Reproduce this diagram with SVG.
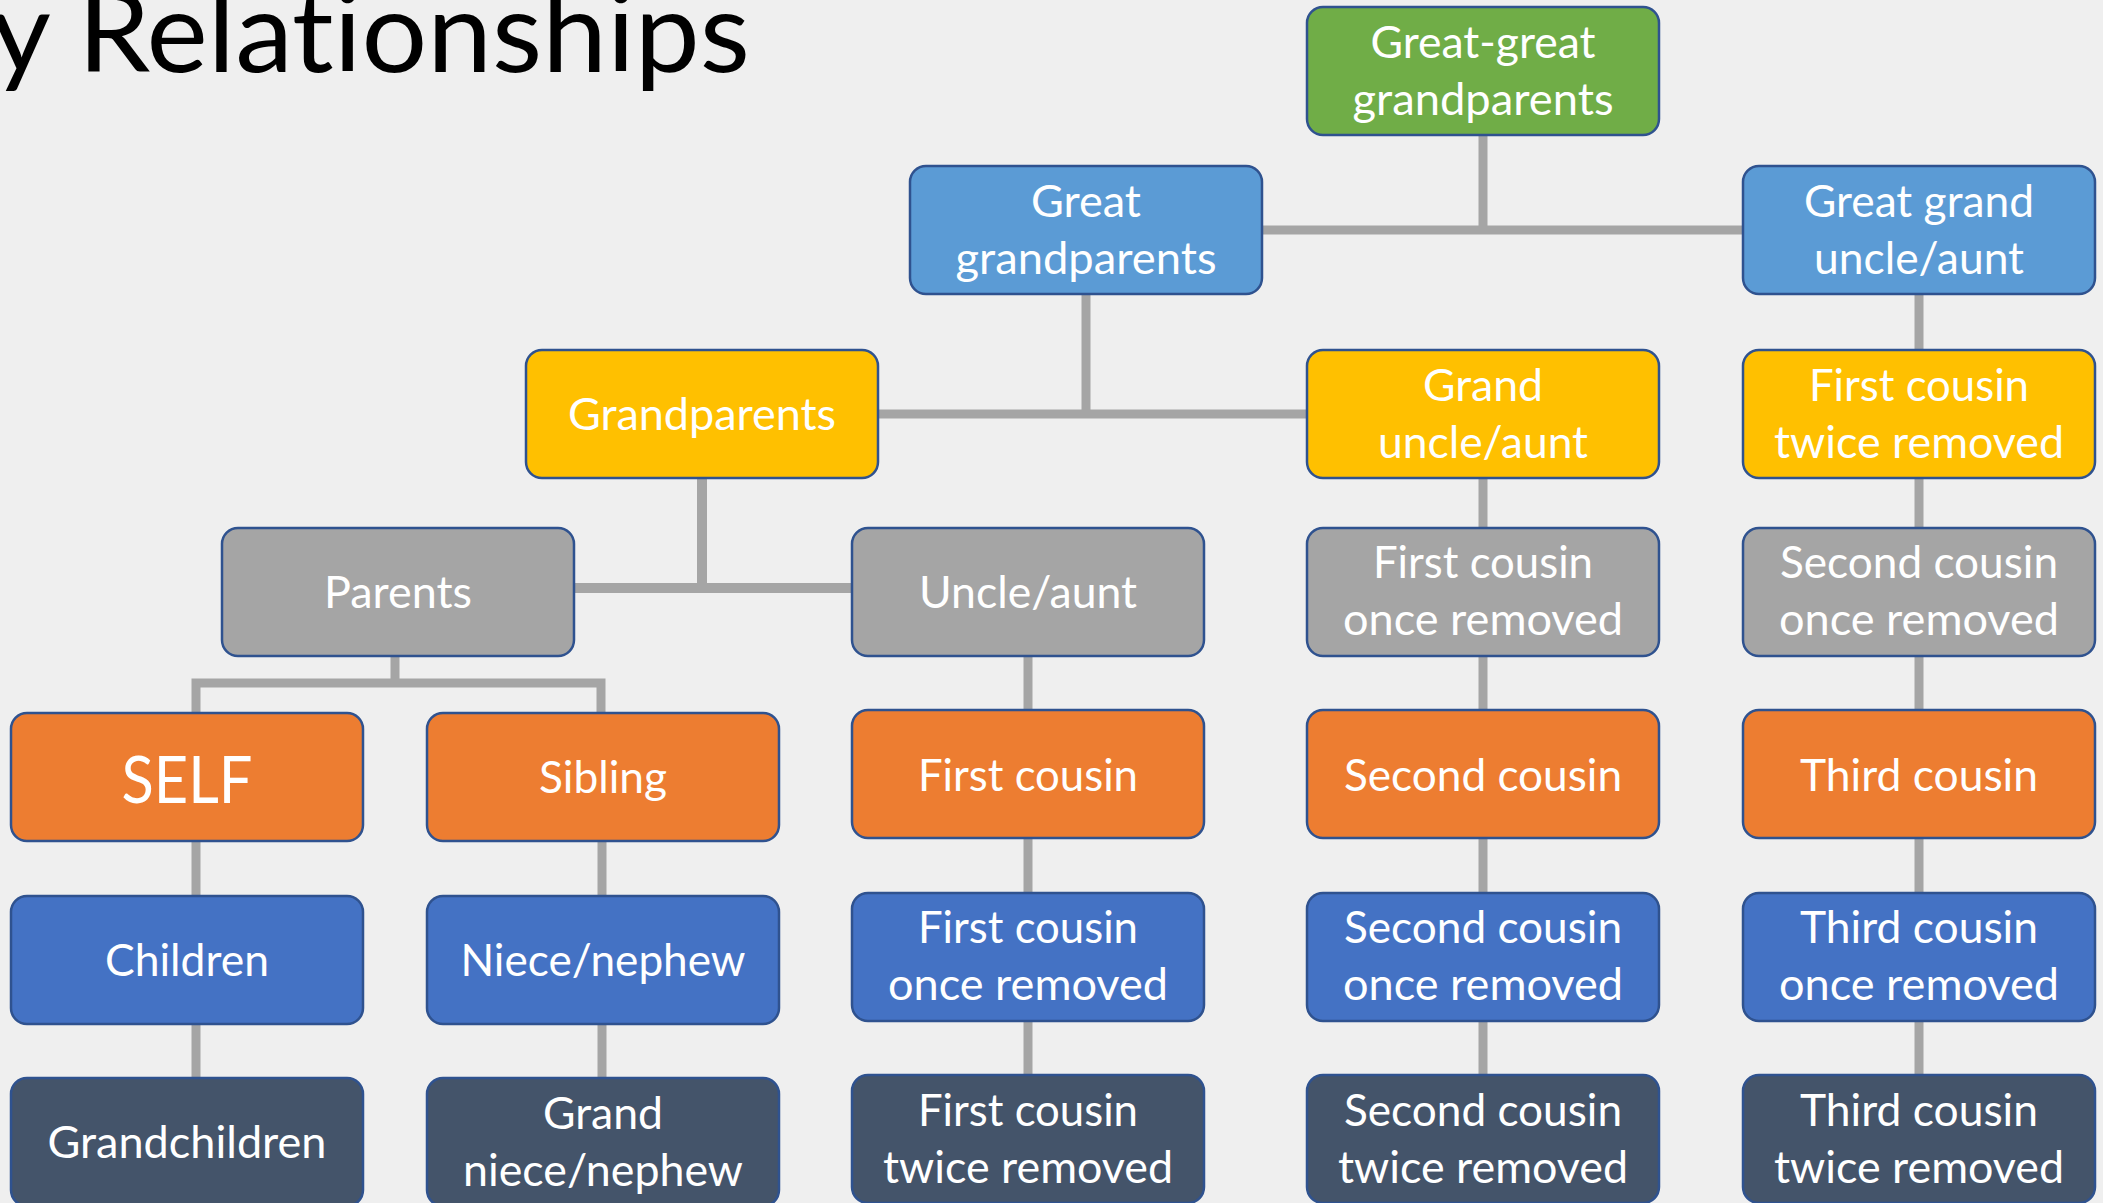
<svg xmlns="http://www.w3.org/2000/svg" width="2103" height="1203" viewBox="0 0 2103 1203">
<style>
.bg{fill:#EFEFEF}
.box{stroke:#2F528F;stroke-width:2.5}
.green{fill:#70AD47}.lblue{fill:#5B9BD5}.yellow{fill:#FFC000}.gray{fill:#A5A5A5}.orange{fill:#ED7D31}.blue{fill:#4472C4}.slate{fill:#44546A}
.t{fill:#FFFFFF;font-family:Lato,"Open Sans","Liberation Sans",sans-serif;font-size:44px;text-anchor:middle;font-variant-ligatures:none}
.big{font-size:66px}
.title{fill:#000000;font-family:Lato,"Open Sans","Liberation Sans",sans-serif;font-size:112px;font-variant-ligatures:none}
.c{fill:none;stroke:#A5A5A5;stroke-width:9}
</style>
<rect class="bg" x="0" y="0" width="2103" height="1203"/>
<text class="title" x="-9" y="72" textLength="759" lengthAdjust="spacingAndGlyphs">y Relationships</text>

<g id="connectors">
<path class="c" d="M1483,135 V230 M1262,230 H1743"/>
<path class="c" d="M1086,294 V414 M878,414 H1308"/>
<path class="c" d="M1919,294 V350"/>
<path class="c" d="M1483,477 V528 M1919,477 V528"/>
<path class="c" style="stroke-width:10" d="M702,477 V588 M574,588 H852"/>
<path class="c" d="M395,656 V683 M196,713 V683 H601 V713"/>
<path class="c" d="M196,841 V896 M196,1024 V1078"/>
<path class="c" d="M602,841 V896 M602,1024 V1078"/>
<path class="c" d="M1028,656 V710 M1028,838 V893 M1028,1021 V1075"/>
<path class="c" d="M1483,656 V710 M1483,838 V893 M1483,1021 V1075"/>
<path class="c" d="M1919,656 V710 M1919,838 V893 M1919,1021 V1075"/>
</g>

<g id="n-great-great-grandparents"><rect class="box green" x="1307" y="7" width="352" height="128" rx="16"/>
<text class="t" x="1483" y="58" textLength="225" lengthAdjust="spacingAndGlyphs">Great-great</text>
<text class="t" x="1483" y="115" textLength="261" lengthAdjust="spacingAndGlyphs">grandparents</text></g>

<g id="n-great-grandparents"><rect class="box lblue" x="910" y="166" width="352" height="128" rx="16"/>
<text class="t" x="1086" y="217" textLength="110" lengthAdjust="spacingAndGlyphs">Great</text>
<text class="t" x="1086" y="274" textLength="261" lengthAdjust="spacingAndGlyphs">grandparents</text></g>

<g id="n-great-grand-uncle-aunt"><rect class="box lblue" x="1743" y="166" width="352" height="128" rx="16"/>
<text class="t" x="1919" y="217" textLength="230" lengthAdjust="spacingAndGlyphs">Great grand</text>
<text class="t" x="1919" y="274" textLength="210" lengthAdjust="spacingAndGlyphs">uncle/aunt</text></g>

<g id="n-grandparents"><rect class="box yellow" x="526" y="350" width="352" height="128" rx="16"/>
<text class="t" x="702" y="430" textLength="268" lengthAdjust="spacingAndGlyphs">Grandparents</text></g>

<g id="n-grand-uncle-aunt"><rect class="box yellow" x="1307" y="350" width="352" height="128" rx="16"/>
<text class="t" x="1483" y="401" textLength="120" lengthAdjust="spacingAndGlyphs">Grand</text>
<text class="t" x="1483" y="458" textLength="210" lengthAdjust="spacingAndGlyphs">uncle/aunt</text></g>

<g id="n-first-cousin-twice-removed-top"><rect class="box yellow" x="1743" y="350" width="352" height="128" rx="16"/>
<text class="t" x="1919" y="401" textLength="220" lengthAdjust="spacingAndGlyphs">First cousin</text>
<text class="t" x="1919" y="458" textLength="290" lengthAdjust="spacingAndGlyphs">twice removed</text></g>

<g id="n-parents"><rect class="box gray" x="222" y="528" width="352" height="128" rx="16"/>
<text class="t" x="398" y="608" textLength="148" lengthAdjust="spacingAndGlyphs">Parents</text></g>

<g id="n-uncle-aunt"><rect class="box gray" x="852" y="528" width="352" height="128" rx="16"/>
<text class="t" x="1028" y="608" textLength="218" lengthAdjust="spacingAndGlyphs">Uncle/aunt</text></g>

<g id="n-first-cousin-once-removed-up"><rect class="box gray" x="1307" y="528" width="352" height="128" rx="16"/>
<text class="t" x="1483" y="578" textLength="220" lengthAdjust="spacingAndGlyphs">First cousin</text>
<text class="t" x="1483" y="635" textLength="280" lengthAdjust="spacingAndGlyphs">once removed</text></g>

<g id="n-second-cousin-once-removed-up"><rect class="box gray" x="1743" y="528" width="352" height="128" rx="16"/>
<text class="t" x="1919" y="578" textLength="278" lengthAdjust="spacingAndGlyphs">Second cousin</text>
<text class="t" x="1919" y="635" textLength="280" lengthAdjust="spacingAndGlyphs">once removed</text></g>

<g id="n-self"><rect class="box orange" x="11" y="713" width="352" height="128" rx="16"/>
<text class="t big" x="187" y="803" textLength="131" lengthAdjust="spacingAndGlyphs">SELF</text></g>

<g id="n-sibling"><rect class="box orange" x="427" y="713" width="352" height="128" rx="16"/>
<text class="t" x="603" y="793" textLength="128" lengthAdjust="spacingAndGlyphs">Sibling</text></g>

<g id="n-first-cousin"><rect class="box orange" x="852" y="710" width="352" height="128" rx="16"/>
<text class="t" x="1028" y="791" textLength="220" lengthAdjust="spacingAndGlyphs">First cousin</text></g>

<g id="n-second-cousin"><rect class="box orange" x="1307" y="710" width="352" height="128" rx="16"/>
<text class="t" x="1483" y="791" textLength="278" lengthAdjust="spacingAndGlyphs">Second cousin</text></g>

<g id="n-third-cousin"><rect class="box orange" x="1743" y="710" width="352" height="128" rx="16"/>
<text class="t" x="1919" y="791" textLength="238" lengthAdjust="spacingAndGlyphs">Third cousin</text></g>

<g id="n-children"><rect class="box blue" x="11" y="896" width="352" height="128" rx="16"/>
<text class="t" x="187" y="976" textLength="164" lengthAdjust="spacingAndGlyphs">Children</text></g>

<g id="n-niece-nephew"><rect class="box blue" x="427" y="896" width="352" height="128" rx="16"/>
<text class="t" x="603" y="976" textLength="285" lengthAdjust="spacingAndGlyphs">Niece/nephew</text></g>

<g id="n-first-cousin-once-removed"><rect class="box blue" x="852" y="893" width="352" height="128" rx="16"/>
<text class="t" x="1028" y="943" textLength="220" lengthAdjust="spacingAndGlyphs">First cousin</text>
<text class="t" x="1028" y="1000" textLength="280" lengthAdjust="spacingAndGlyphs">once removed</text></g>

<g id="n-second-cousin-once-removed"><rect class="box blue" x="1307" y="893" width="352" height="128" rx="16"/>
<text class="t" x="1483" y="943" textLength="278" lengthAdjust="spacingAndGlyphs">Second cousin</text>
<text class="t" x="1483" y="1000" textLength="280" lengthAdjust="spacingAndGlyphs">once removed</text></g>

<g id="n-third-cousin-once-removed"><rect class="box blue" x="1743" y="893" width="352" height="128" rx="16"/>
<text class="t" x="1919" y="943" textLength="238" lengthAdjust="spacingAndGlyphs">Third cousin</text>
<text class="t" x="1919" y="1000" textLength="280" lengthAdjust="spacingAndGlyphs">once removed</text></g>

<g id="n-grandchildren"><rect class="box slate" x="11" y="1078" width="352" height="128" rx="16"/>
<text class="t" x="187" y="1158" textLength="279" lengthAdjust="spacingAndGlyphs">Grandchildren</text></g>

<g id="n-grand-niece-nephew"><rect class="box slate" x="427" y="1078" width="352" height="128" rx="16"/>
<text class="t" x="603" y="1129" textLength="120" lengthAdjust="spacingAndGlyphs">Grand</text>
<text class="t" x="603" y="1186" textLength="280" lengthAdjust="spacingAndGlyphs">niece/nephew</text></g>

<g id="n-first-cousin-twice-removed"><rect class="box slate" x="852" y="1075" width="352" height="128" rx="16"/>
<text class="t" x="1028" y="1126" textLength="220" lengthAdjust="spacingAndGlyphs">First cousin</text>
<text class="t" x="1028" y="1183" textLength="290" lengthAdjust="spacingAndGlyphs">twice removed</text></g>

<g id="n-second-cousin-twice-removed"><rect class="box slate" x="1307" y="1075" width="352" height="128" rx="16"/>
<text class="t" x="1483" y="1126" textLength="278" lengthAdjust="spacingAndGlyphs">Second cousin</text>
<text class="t" x="1483" y="1183" textLength="290" lengthAdjust="spacingAndGlyphs">twice removed</text></g>

<g id="n-third-cousin-twice-removed"><rect class="box slate" x="1743" y="1075" width="352" height="128" rx="16"/>
<text class="t" x="1919" y="1126" textLength="238" lengthAdjust="spacingAndGlyphs">Third cousin</text>
<text class="t" x="1919" y="1183" textLength="290" lengthAdjust="spacingAndGlyphs">twice removed</text></g>
</svg>
